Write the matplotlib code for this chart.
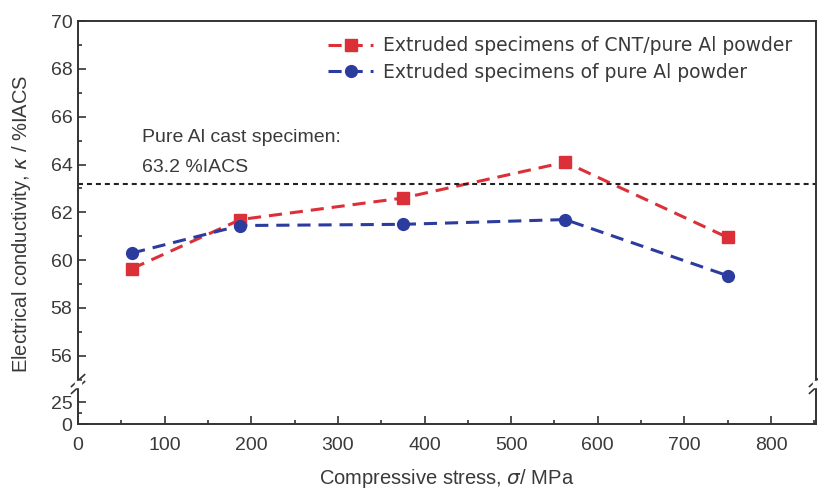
import matplotlib.pyplot as plt
from matplotlib.ticker import MultipleLocator, FixedLocator

plt.rcParams['font.family'] = ['Liberation Sans', 'DejaVu Sans']

# data
stress = [62.5, 187.5, 375, 562.5, 750]
cnt_al = [59.65, 61.7, 62.6, 64.1, 60.95]
pure_al = [60.3, 61.45, 61.5, 61.7, 59.35]
cast_al = 63.2
labels = ['Extruded specimens of CNT/pure Al powder',
          'Extruded specimens of pure Al powder']

red = '#dc3039'
blue = '#2c3c9e'
edge = '#333333'
txt = '#3a3a3a'

fig = plt.figure(figsize=(8.18, 4.92), dpi=100)
left, right = 0.0954, 0.9976
brk = 0.2195
ax = fig.add_axes([left, brk, right - left, 0.957 - brk])
axb = fig.add_axes([left, 0.138, right - left, brk - 0.138], sharex=ax)

ax.plot(stress, cnt_al, ls=(0, (4.3, 2.6)), lw=2.2, color=red, marker='s', ms=8,
        label=labels[0])
ax.plot(stress, pure_al, ls=(0, (4.3, 2.6)), lw=2.2, color=blue, marker='o', ms=8.5,
        label=labels[1])
ax.axhline(cast_al, color='#222222', ls=(0, (2.4, 1.9)), lw=1.5)
ax.text(74, 65.15, 'Pure Al cast specimen:', fontsize=14, va='center', color=txt)
ax.text(74, 63.89, f'{cast_al} %IACS', fontsize=14, va='center', color=txt)

ax.set_xlim(0, 852)
ax.set_ylim(54.82, 70)
axb.set_ylim(0, 45.6)

ax.yaxis.set_major_locator(FixedLocator(range(56, 71, 2)))
ax.yaxis.set_minor_locator(FixedLocator(range(55, 70, 2)))
axb.yaxis.set_major_locator(FixedLocator([0, 25]))
axb.yaxis.set_minor_locator(FixedLocator([12.5]))
axb.xaxis.set_major_locator(MultipleLocator(100))
axb.xaxis.set_minor_locator(MultipleLocator(50))

for a in (ax, axb):
    for s in a.spines.values():
        s.set_color(edge)
        s.set_linewidth(1.4)
    a.tick_params(which='both', direction='in', colors=edge, labelcolor=txt,
                  labelsize=14, width=1.2)
    a.tick_params(which='major', length=6)
    a.tick_params(which='minor', length=3)
    a.tick_params(axis='y', pad=4)
axb.tick_params(axis='x', pad=9)
ax.spines['bottom'].set_visible(False)
axb.spines['top'].set_visible(False)
ax.tick_params(axis='x', which='both', bottom=False, labelbottom=False)

axb.set_xlabel('Compressive stress, $\\sigma$/ MPa', fontsize=14.5, color=txt,
               labelpad=10)
fig.text(0.026, 0.545, 'Electrical conductivity, $\\kappa$ / %IACS', rotation=90,
         fontsize=14.5, color=txt, va='center', ha='center')

# break marks on both vertical spines
for xs in (left, right):
    for dy in (-0.007, 0.007):
        fig.add_artist(plt.Line2D([xs - 0.008, xs + 0.008],
                                  [brk + dy - 0.012, brk + dy + 0.012],
                                  color=edge, lw=1.2, transform=fig.transFigure))
    fig.add_artist(plt.Rectangle((xs - 0.004, brk - 0.006), 0.008, 0.012,
                                 color='white', transform=fig.transFigure,
                                 zorder=5))

ax.legend(loc='upper left', bbox_to_anchor=(0.339, 0.958), frameon=False,
          prop={'family': 'DejaVu Sans', 'size': 13.5}, handlelength=2.4,
          handletextpad=0.5, labelspacing=0.4, borderpad=0, borderaxespad=0,
          labelcolor=txt)

fig.savefig('out.png', dpi=100)
